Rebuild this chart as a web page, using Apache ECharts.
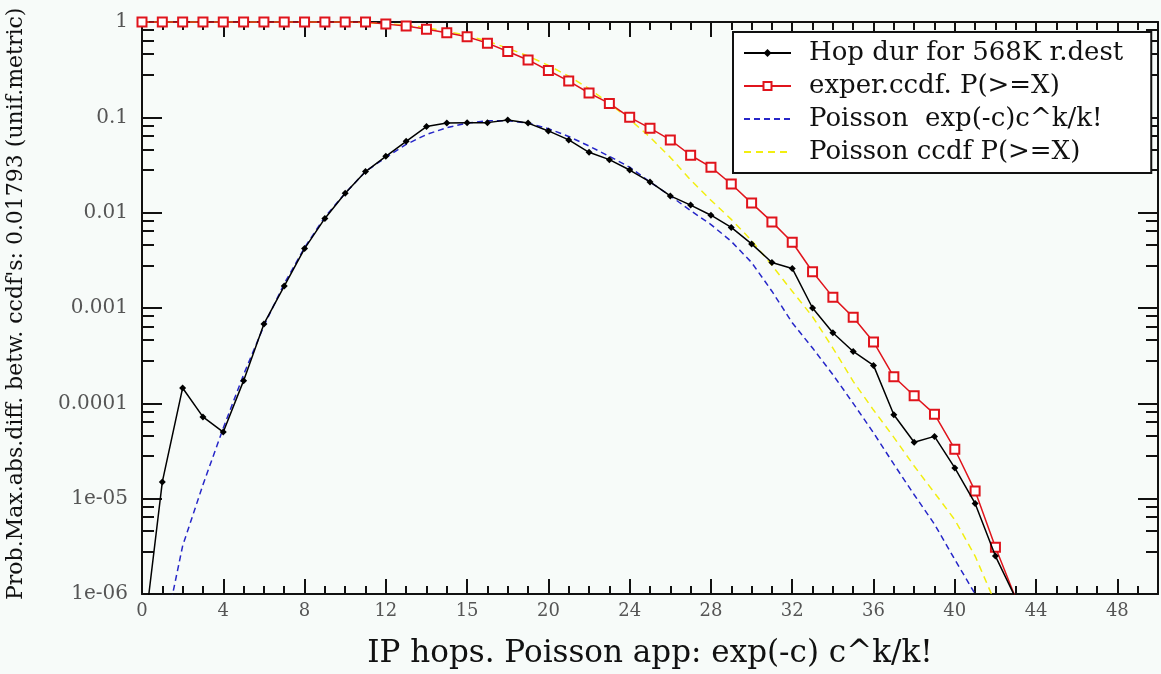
<!DOCTYPE html>
<html>
<head>
<meta charset="utf-8">
<script src="https://cdn.jsdelivr.net/npm/echarts@6/dist/echarts.min.js"></script>
<style>
html,body{margin:0;padding:0;background:#f7fbf9;}
#chart{width:1161px;height:674px;}
</style>
</head>
<body>
<div id="chart"></div>
<script>
// ---- data ----
const hops = [0,1,2,3,4,5,6,7,8,9,10,11,12,13,14,15,16,17,18,19,20,21,22,23,24,25,26,27,28,29,30,31,32,33,34,35,36,37,38,39,40,41,42,43];
const hopDur = [2.5e-7,1.5e-5,1.45e-4,7.2e-5,5.0e-5,1.73e-4,6.8e-4,1.7e-3,4.2e-3,8.7e-3,0.016,0.027,0.039,0.056,0.080,0.087,0.088,0.088,0.094,0.087,0.072,0.058,0.043,0.036,0.028,0.021,0.015,0.012,0.0094,0.0070,0.0047,0.0030,0.0026,1.0e-3,5.5e-4,3.5e-4,2.5e-4,7.6e-5,3.9e-5,4.5e-5,2.1e-5,8.9e-6,2.5e-6,9e-7];
const experCcdf = [1,1,1,1,1,1,1,1,1,1,1,1,0.95,0.91,0.84,0.77,0.70,0.60,0.49,0.40,0.31,0.24,0.18,0.14,0.10,0.077,0.058,0.040,0.030,0.020,0.0126,0.0080,0.0049,0.0024,0.0013,8e-4,4.4e-4,1.9e-4,1.2e-4,7.7e-5,3.3e-5,1.2e-5,3.1e-6,9e-7];
const poissonPmf = [1.5e-8,3e-7,3.2e-6,1.4e-5,5.5e-5,2.0e-4,6.5e-4,1.8e-3,4.3e-3,9e-3,0.016,0.027,0.038,0.052,0.066,0.078,0.087,0.092,0.092,0.087,0.076,0.063,0.050,0.039,0.030,0.021,0.0150,0.0105,0.0075,0.0050,0.0030,0.0015,7.0e-4,3.8e-4,2.0e-4,1.0e-4,4.9e-5,2.3e-5,1.1e-5,5.4e-6,2.3e-6,1.0e-6,4e-7,1e-7];
const poissonCcdf = [1,1,1,1,1,1,1,1,0.9999,0.999,0.997,0.985,0.96,0.93,0.87,0.80,0.72,0.63,0.53,0.44,0.35,0.27,0.20,0.14,0.095,0.062,0.038,0.022,0.0135,0.0085,0.0051,2.8e-3,1.5e-3,8.1e-4,3.8e-4,1.7e-4,8.5e-5,4.4e-5,2.2e-5,1.15e-5,6e-6,2.5e-6,8e-7,2e-7];
const xTickLabels = ['0','4','8','12','15','20','24','28','32','36','40','44','48'];
const yTickLabels = ['1e-06','1e-05','0.0001','0.001','0.01','0.1','1'];
const seriesNames = ['Hop dur for 568K r.dest','exper.ccdf. P(>=X)','Poisson  exp(-c)c^k/k!','Poisson ccdf P(>=X)'];
const xName = 'IP hops. Poisson app: exp(-c) c^k/k!';
const yName = "Prob.Max.abs.diff. betw. ccdf's: 0.01793 (unif.metric)";

const pairs = arr => hops.map((h,i)=>[h,arr[i]]);
const serif = '"DejaVu Serif","Liberation Serif",serif';

const chart = echarts.init(document.getElementById('chart'));
const xBase = {
  type:'value', min:0, max:50, interval:4,
  axisLine:{onZero:false, lineStyle:{color:'#111',width:2}},
  axisTick:{inside:true,length:15,lineStyle:{color:'#111',width:2}},
  minorTick:{show:true,splitNumber:4,length:8,lineStyle:{color:'#111',width:2}},
  splitLine:{show:false}
};
const yBase = {
  type:'log', logBase:10, min:1e-6, max:1,
  axisLine:{onZero:false, lineStyle:{color:'#111',width:2}},
  axisTick:{inside:true,length:20,lineStyle:{color:'#111',width:2}},
  minorTick:{show:true,splitNumber:5,length:12,lineStyle:{color:'#111',width:2}},
  splitLine:{show:false}
};
chart.setOption({
  backgroundColor:'#f7fbf9',
  animation:false,
  grid:{left:142,right:2,top:22,bottom:80,containLabel:false},
  xAxis:[
    Object.assign({}, xBase, {position:'bottom',
      axisLabel:{show:true,margin:8,color:'#555',fontFamily:serif,fontSize:18,
        formatter:v=>{const i=Math.round(v/4);return (v%4===0&&i<xTickLabels.length)?xTickLabels[i]:'';}},
      name:xName,nameLocation:'middle',nameGap:44,
      nameTextStyle:{color:'#111',fontFamily:serif,fontSize:31}}),
    Object.assign({}, xBase, {position:'top',axisLabel:{show:false}})
  ],
  yAxis:[
    Object.assign({}, yBase, {position:'left',
      axisLabel:{show:true,margin:14,color:'#555',fontFamily:serif,fontSize:20,
        formatter:v=>{const e=Math.round(Math.log10(v));return yTickLabels[e+6]||'';}}}),
    Object.assign({}, yBase, {position:'right',axisLabel:{show:false}})
  ],
  legend:{
    orient:'vertical', left:733, top:32,
    backgroundColor:'#ffffff', borderColor:'#111', borderWidth:2,
    padding:[6,28,6,10], itemWidth:47, itemHeight:10, itemGap:3,
    textStyle:{fontFamily:serif,fontSize:26,color:'#111',lineHeight:30,padding:[0,0,0,13]},
    data:[
      {name:seriesNames[0]},
      {name:seriesNames[1]},
      {name:seriesNames[2],itemStyle:{opacity:0}},
      {name:seriesNames[3],itemStyle:{opacity:0}}
    ]
  },
  graphic:[{
    type:'text',
    style:{text:yName, font:'22px "DejaVu Serif", serif', fill:'#111'},
    rotation:Math.PI/2, x:5, y:600
  }],
  series:[
    {name:seriesNames[0],type:'line',data:pairs(hopDur),symbol:'diamond',symbolSize:7,
      itemStyle:{color:'#000'},lineStyle:{color:'#000',width:1.5},clip:true,z:5},
    {name:seriesNames[1],type:'line',data:pairs(experCcdf),symbol:'emptyRect',symbolSize:9,
      itemStyle:{color:'#e0141c',borderColor:'#e0141c',borderWidth:1.5},lineStyle:{color:'#e0141c',width:1.5},clip:true,z:4},
    {name:seriesNames[2],type:'line',data:pairs(poissonPmf),symbol:'none',
      itemStyle:{color:'#2626c8'},lineStyle:{color:'#2626c8',width:1.5,type:[6,4]},clip:true,z:3},
    {name:seriesNames[3],type:'line',data:pairs(poissonCcdf),symbol:'none',
      itemStyle:{color:'#f2ee10'},lineStyle:{color:'#f2ee10',width:1.5,type:[7,5]},clip:true,z:2}
  ]
});
</script>
</body>
</html>
